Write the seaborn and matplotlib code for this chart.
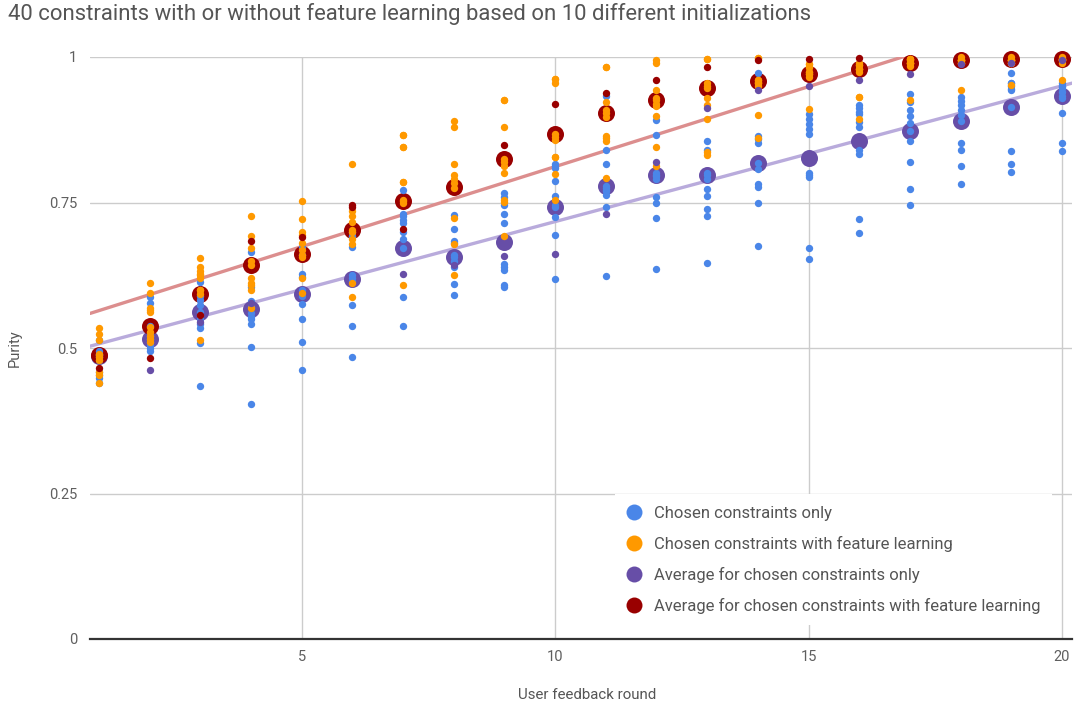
import numpy as np
import pandas as pd
import matplotlib
matplotlib.use("Agg")
import matplotlib.pyplot as plt
from matplotlib.lines import Line2D
import seaborn as sns

# Feedback rounds
rounds = list(range(1, 21))

# Purity of each of the 10 initializations, chosen constraints only
purity_chosen = [
    [0.448, 0.459, 0.454, 0.440, 0.480, 0.488, 0.495, 0.485, 0.490, 0.514],
    [0.587, 0.577, 0.538, 0.525, 0.515, 0.505, 0.495, 0.510, 0.520, 0.500],
    [0.614, 0.582, 0.574, 0.562, 0.550, 0.541, 0.534, 0.508, 0.435, 0.590],
    [0.665, 0.604, 0.570, 0.553, 0.541, 0.502, 0.403, 0.560, 0.580, 0.550],
    [0.674, 0.627, 0.622, 0.600, 0.575, 0.549, 0.511, 0.462, 0.660, 0.590],
    [0.692, 0.674, 0.620, 0.615, 0.574, 0.538, 0.485, 0.700, 0.625, 0.690],
    [0.771, 0.731, 0.726, 0.720, 0.714, 0.688, 0.672, 0.588, 0.538, 0.700],
    [0.729, 0.704, 0.684, 0.680, 0.656, 0.639, 0.610, 0.591, 0.660, 0.650],
    [0.767, 0.760, 0.746, 0.731, 0.715, 0.645, 0.640, 0.634, 0.609, 0.604],
    [0.813, 0.809, 0.787, 0.761, 0.742, 0.725, 0.694, 0.619, 0.817, 0.745],
    [0.933, 0.840, 0.816, 0.778, 0.769, 0.763, 0.743, 0.624, 0.775, 0.772],
    [0.891, 0.866, 0.797, 0.790, 0.760, 0.749, 0.723, 0.636, 0.800, 0.795],
    [0.856, 0.841, 0.797, 0.773, 0.762, 0.739, 0.726, 0.646, 0.800, 0.790],
    [0.972, 0.864, 0.853, 0.818, 0.807, 0.782, 0.776, 0.749, 0.675, 0.859],
    [0.902, 0.893, 0.885, 0.876, 0.867, 0.801, 0.797, 0.793, 0.671, 0.653],
    [0.918, 0.912, 0.906, 0.902, 0.889, 0.880, 0.840, 0.833, 0.721, 0.698],
    [0.936, 0.922, 0.909, 0.899, 0.886, 0.873, 0.856, 0.820, 0.773, 0.746],
    [0.932, 0.925, 0.918, 0.909, 0.890, 0.853, 0.841, 0.813, 0.781, 0.900],
    [0.972, 0.956, 0.950, 0.943, 0.914, 0.838, 0.817, 0.803, 0.945, 0.955],
    [0.955, 0.950, 0.946, 0.933, 0.904, 0.852, 0.839, 0.940, 0.930, 0.950],
]

# Purity of each of the 10 initializations, with feature learning
purity_feature = [
    [0.535, 0.524, 0.514, 0.488, 0.459, 0.454, 0.440, 0.490, 0.480, 0.485],
    [0.612, 0.594, 0.569, 0.565, 0.561, 0.528, 0.520, 0.515, 0.511, 0.536],
    [0.655, 0.639, 0.633, 0.627, 0.625, 0.600, 0.593, 0.514, 0.600, 0.620],
    [0.727, 0.692, 0.671, 0.643, 0.612, 0.608, 0.569, 0.650, 0.620, 0.600],
    [0.753, 0.722, 0.694, 0.668, 0.656, 0.620, 0.594, 0.680, 0.700, 0.660],
    [0.816, 0.735, 0.726, 0.717, 0.687, 0.678, 0.612, 0.588, 0.703, 0.700],
    [0.866, 0.846, 0.786, 0.753, 0.609, 0.750, 0.755, 0.866, 0.846, 0.786],
    [0.890, 0.880, 0.816, 0.797, 0.790, 0.783, 0.775, 0.723, 0.678, 0.625],
    [0.926, 0.880, 0.825, 0.813, 0.800, 0.755, 0.751, 0.692, 0.820, 0.926],
    [0.963, 0.956, 0.863, 0.857, 0.828, 0.799, 0.754, 0.868, 0.963, 0.828],
    [0.982, 0.923, 0.909, 0.897, 0.864, 0.855, 0.792, 0.904, 0.982, 0.860],
    [0.994, 0.989, 0.944, 0.926, 0.915, 0.899, 0.846, 0.813, 0.930, 0.920],
    [0.996, 0.956, 0.947, 0.929, 0.918, 0.893, 0.836, 0.832, 0.996, 0.950],
    [0.999, 0.960, 0.955, 0.957, 0.900, 0.860, 0.999, 0.955, 0.960, 0.950],
    [0.988, 0.982, 0.971, 0.975, 0.910, 0.988, 0.970, 0.965, 0.982, 0.975],
    [0.986, 0.979, 0.932, 0.893, 0.986, 0.980, 0.975, 0.990, 0.932, 0.980],
    [0.996, 0.990, 0.926, 0.996, 0.990, 0.995, 0.985, 0.990, 0.996, 0.990],
    [0.995, 0.943, 0.995, 0.990, 1.000, 0.995, 0.990, 0.995, 0.990, 0.995],
    [0.995, 0.952, 0.995, 0.990, 0.995, 1.000, 0.995, 0.990, 0.995, 0.990],
    [0.997, 0.961, 0.997, 0.995, 1.000, 0.997, 0.995, 0.990, 0.997, 0.995],
]

# Averages over the initializations
avg_chosen = [0.487, 0.515, 0.562, 0.567, 0.593, 0.619, 0.672, 0.656, 0.682, 0.742,
              0.778, 0.797, 0.797, 0.818, 0.826, 0.856, 0.873, 0.890, 0.914, 0.933]
avg_feature = [0.488, 0.537, 0.593, 0.643, 0.662, 0.702, 0.753, 0.776, 0.825, 0.867,
               0.904, 0.926, 0.946, 0.958, 0.971, 0.979, 0.990, 0.995, 0.996, 0.997]

# Additional single-run points drawn in the average colours
extra_feature_rounds = [1, 2, 3, 4, 5, 6, 6, 7, 9, 10, 11, 12, 13, 14, 15, 16]
extra_feature_values = [0.466, 0.482, 0.556, 0.683, 0.690, 0.746, 0.742, 0.704, 0.849,
                        0.920, 0.939, 0.961, 0.982, 0.994, 0.996, 0.999]
extra_chosen_rounds = [2, 3, 4, 7, 8, 9, 10, 11, 12, 13, 14, 15, 16, 17, 18, 19, 20]
extra_chosen_values = [0.462, 0.545, 0.578, 0.628, 0.643, 0.658, 0.661, 0.730, 0.819,
                       0.913, 0.943, 0.950, 0.961, 0.971, 0.988, 0.990, 0.995]

labels = ["Chosen constraints only",
          "Chosen constraints with feature learning",
          "Average for chosen constraints only",
          "Average for chosen constraints with feature learning"]
colors = ["#4a86e8", "#ff9900", "#674ea7", "#990000"]
trend_colors = ["#b9abdc", "#dc8e8e"]

def long_frame(values):
    rows = [(r, v) for r, vals in zip(rounds, values) for v in vals]
    return pd.DataFrame(rows, columns=["round", "purity"])

df_chosen = long_frame(purity_chosen)
df_feature = long_frame(purity_feature)
df_avg = pd.DataFrame({"round": rounds, "avg_chosen": avg_chosen, "avg_feature": avg_feature})

sns.set_theme(style="white")
plt.rcParams["font.family"] = ["Roboto", "DejaVu Sans"]

W, H = 1075, 710
fig = plt.figure(figsize=(W / 100, H / 100), dpi=100)
ax = fig.add_axes([90 / W, 1 - 639 / H, (1072 - 90) / W, (639 - 57) / H])
ax.set_xlim(0.82, 20.2)
ax.set_ylim(0, 1)

# Linear trend lines of the two averages
sns.regplot(data=df_avg, x="round", y="avg_chosen", scatter=False, ci=None, truncate=False,
            ax=ax, line_kws=dict(color=trend_colors[0], lw=2.4, zorder=1.5))
sns.regplot(data=df_avg, x="round", y="avg_feature", scatter=False, ci=None, truncate=False,
            ax=ax, line_kws=dict(color=trend_colors[1], lw=2.4, zorder=1.5))

def dots(data, x, y, color, size, z):
    sns.scatterplot(data=data, x=x, y=y, color=color, s=size, linewidth=0, ax=ax,
                    zorder=z, legend=False)
    ax.collections[-1].set_clip_on(False)

dots(df_avg, "round", "avg_chosen", colors[2], 150, 3)
dots(df_avg, "round", "avg_feature", colors[3], 150, 3.1)
dots(df_chosen, "round", "purity", colors[0], 28, 4)
dots(df_feature, "round", "purity", colors[1], 28, 4.1)
dots(pd.DataFrame({"r": extra_chosen_rounds, "v": extra_chosen_values}), "r", "v", colors[2], 28, 4.2)
dots(pd.DataFrame({"r": extra_feature_rounds, "v": extra_feature_values}), "r", "v", colors[3], 28, 4.3)

ax.set_xlim(0.82, 20.2)
ax.set_ylim(0, 1)
ax.set_xticks([5, 10, 15, 20])
ax.set_yticks([0, 0.25, 0.5, 0.75, 1])
ax.set_yticklabels(["0", "0.25", "0.5", "0.75", "1"])
ax.tick_params(axis="both", length=0, labelsize=10.5, labelcolor="#5f5f5f")
ax.tick_params(axis="y", pad=9)
ax.tick_params(axis="x", pad=8)
ax.grid(True, color="#cccccc", lw=1)
ax.set_axisbelow(True)
for side in ["top", "right", "left"]:
    ax.spines[side].set_visible(False)
ax.spines["bottom"].set_color("#333333")
ax.spines["bottom"].set_linewidth(1.6)
ax.set_xlabel("")
ax.set_ylabel("")

fig.text(8 / W, 1 - 3 / H, "40 constraints with or without feature learning based on 10 different initializations",
         ha="left", va="top", fontsize=15.9, color="#555555")
fig.text(15 / W, 1 - 348 / H, "Purity", rotation=90, ha="center", va="center",
         fontsize=10.5, color="#555555")
fig.text(587 / W, 1 - 695 / H, "User feedback round", ha="center", va="center",
         fontsize=10.8, color="#555555")

handles = [Line2D([], [], ls="", marker="o", markersize=11.5, color=c, markeredgewidth=0) for c in colors]
leg = ax.legend(handles, labels, loc="upper left", bbox_to_anchor=(615 / W, 1 - 494 / H),
                bbox_transform=fig.transFigure, frameon=True, fancybox=False,
                framealpha=1, facecolor="white", edgecolor="none", fontsize=12,
                labelspacing=0.9, handlelength=0.9, handletextpad=0.75, borderpad=0.7,
                borderaxespad=0)
for t in leg.get_texts():
    t.set_color("#555555")
leg.set_zorder(10)

fig.savefig("out.png", dpi=100, facecolor="white")
